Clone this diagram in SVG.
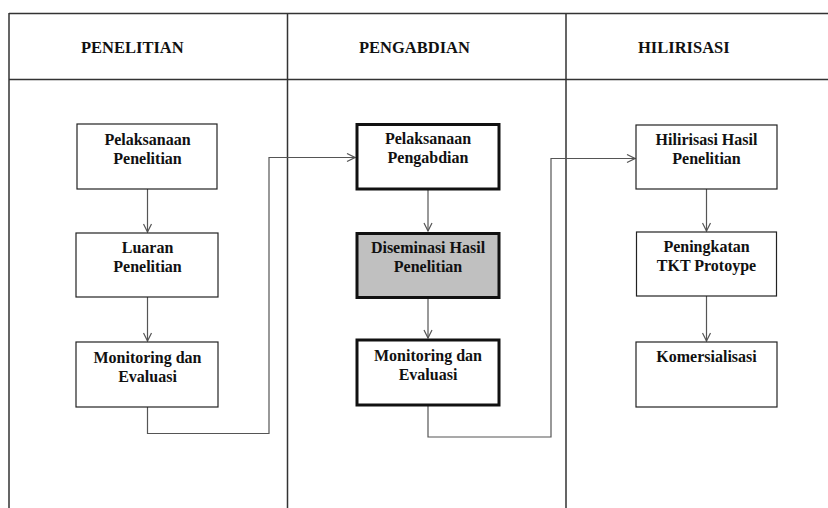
<svg xmlns="http://www.w3.org/2000/svg" width="828" height="508" viewBox="0 0 828 508">
  <defs>
    <style>
      .frame { fill: none; stroke: #333; stroke-width: 1.5; }
      .box { fill: #fff; stroke: #222; stroke-width: 1.2; }
      .thick { fill: #fff; stroke: #111; stroke-width: 3; }
      .gray { fill: #c0c0c0; }
      .conn { fill: none; stroke: #555; stroke-width: 1.2; }
      .hdr { font-family: 'Liberation Serif', 'Times New Roman', serif; font-weight: bold; font-size: 16.5px; fill: #111; }
      .lbl { font-family: 'Liberation Serif', 'Times New Roman', serif; font-weight: bold; font-size: 16px; fill: #111; text-anchor: middle; }
    </style>
    <marker id="arr" viewBox="0 0 10 10" refX="9" refY="5" markerWidth="10" markerHeight="10" markerUnits="userSpaceOnUse" orient="auto">
      <path d="M1,1 L9,5 L1,9" fill="none" stroke="#555" stroke-width="1.2"/>
    </marker>
  </defs>
  <rect width="828" height="508" fill="#fff"/>

  <g id="lanes">
    <path class="frame" d="M9,13.5 H828 M9,79.5 H828 M9,13 V508 M287.5,13 V508 M566,13 V508"/>
    <text class="hdr" x="81" y="52.5">PENELITIAN</text>
    <text class="hdr" x="359" y="52.5">PENGABDIAN</text>
    <text class="hdr" x="638" y="52.5">HILIRISASI</text>
  </g>

  <g id="connectors">
    <line class="conn" x1="147.5" y1="189" x2="147.5" y2="232" marker-end="url(#arr)"/>
    <line class="conn" x1="147.5" y1="297" x2="147.5" y2="341" marker-end="url(#arr)"/>
    <polyline class="conn" points="147.5,407 147.5,433.5 269,433.5 269,157.5 355,157.5" marker-end="url(#arr)"/>
    <line class="conn" x1="428" y1="189" x2="428" y2="231" marker-end="url(#arr)"/>
    <line class="conn" x1="428" y1="298" x2="428" y2="338" marker-end="url(#arr)"/>
    <polyline class="conn" points="428,406 428,437 551,437 551,158.5 635,158.5" marker-end="url(#arr)"/>
    <line class="conn" x1="706.5" y1="189" x2="706.5" y2="231" marker-end="url(#arr)"/>
    <line class="conn" x1="706.5" y1="296" x2="706.5" y2="341" marker-end="url(#arr)"/>
  </g>

  <g id="n1">
    <rect class="box" x="77" y="124" width="140" height="65"/>
    <text class="lbl" x="147.5" y="144.5">Pelaksanaan</text>
    <text class="lbl" x="147.5" y="163.5">Penelitian</text>
  </g>
  <g id="n2">
    <rect class="box" x="76" y="233" width="142" height="64"/>
    <text class="lbl" x="147.5" y="253">Luaran</text>
    <text class="lbl" x="147.5" y="272">Penelitian</text>
  </g>
  <g id="n3">
    <rect class="box" x="76" y="342" width="142" height="65"/>
    <text class="lbl" x="147.5" y="363">Monitoring dan</text>
    <text class="lbl" x="147.5" y="382">Evaluasi</text>
  </g>

  <g id="n4">
    <rect class="thick" x="357" y="124.5" width="142" height="64.5"/>
    <text class="lbl" x="428" y="143.5">Pelaksanaan</text>
    <text class="lbl" x="428" y="162.5">Pengabdian</text>
  </g>
  <g id="n5">
    <rect class="thick gray" x="357" y="233.5" width="142" height="64"/>
    <text class="lbl" x="428" y="252.5">Diseminasi Hasil</text>
    <text class="lbl" x="428" y="271.5">Penelitian</text>
  </g>
  <g id="n6">
    <rect class="thick" x="357" y="340" width="142" height="65"/>
    <text class="lbl" x="428" y="360.5">Monitoring dan</text>
    <text class="lbl" x="428" y="379.5">Evaluasi</text>
  </g>

  <g id="n7">
    <rect class="box" x="636" y="125" width="141" height="64"/>
    <text class="lbl" x="706.5" y="145">Hilirisasi Hasil</text>
    <text class="lbl" x="706.5" y="164">Penelitian</text>
  </g>
  <g id="n8">
    <rect class="box" x="636.5" y="232" width="140" height="64"/>
    <text class="lbl" x="706.5" y="252">Peningkatan</text>
    <text class="lbl" x="706.5" y="271">TKT Protoype</text>
  </g>
  <g id="n9">
    <rect class="box" x="636" y="342" width="141" height="65"/>
    <text class="lbl" x="706.5" y="362">Komersialisasi</text>
  </g>
</svg>
